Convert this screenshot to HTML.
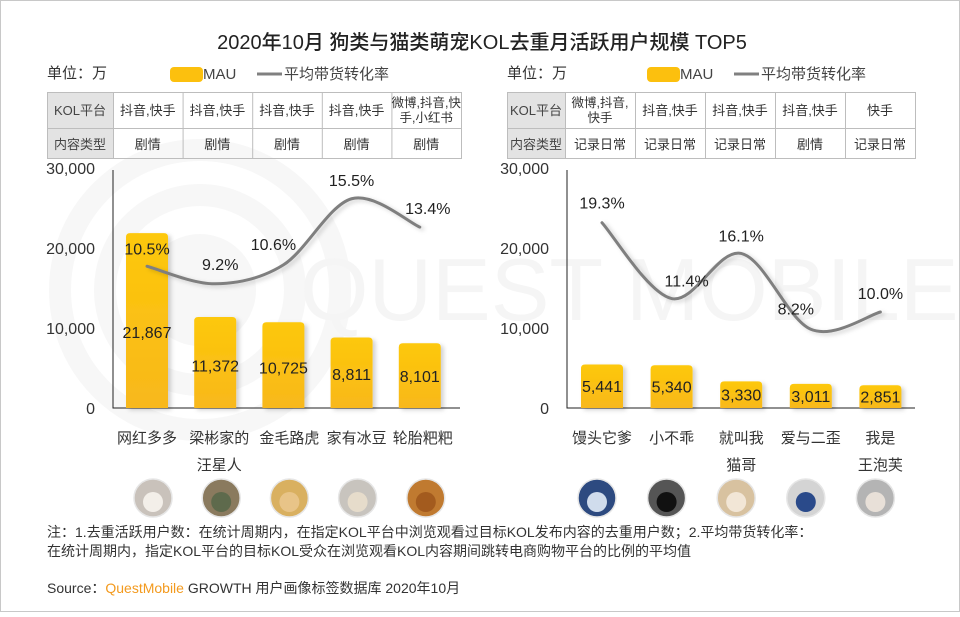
<!DOCTYPE html>
<html><head><meta charset="utf-8"><style>
html,body{margin:0;padding:0;background:#fff}
body{width:960px;height:612px;overflow:hidden;font-family:"Liberation Sans","Noto Sans CJK SC",sans-serif}
svg text{font-family:"Liberation Sans","Noto Sans CJK SC",sans-serif}
</style></head><body>
<svg id="c" width="960" height="612" viewBox="0 0 960 612" xmlns="http://www.w3.org/2000/svg">
<defs>
<linearGradient id="bg" x1="0" y1="0" x2="0" y2="1"><stop offset="0" stop-color="#fdc80a"/><stop offset="1" stop-color="#f8b81c"/></linearGradient>
<filter id="sh" x="-20%" y="-20%" width="150%" height="150%"><feDropShadow dx="3" dy="2" stdDeviation="2" flood-color="#000" flood-opacity="0.18"/></filter>
</defs>
<rect x="0.5" y="0.5" width="959" height="611" fill="#fff" stroke="#c8c8c8"/>
<g fill="none" stroke="#f7f7f7" stroke-width="22">
<circle cx="200" cy="290" r="140"/><circle cx="200" cy="290" r="95"/><circle cx="200" cy="290" r="45" fill="#f7f7f7"/>
</g>
<text x="300" y="320" font-size="88" fill="#f5f5f5">QUEST MOBILE</text>
<text x="482" y="49" font-size="20" font-weight="500" fill="#222" text-anchor="middle">2020年10月 狗类与猫类萌宠KOL去重月活跃用户规模 TOP5</text>
<g id="L"></g><g id="R"></g>
<text x="47" y="537" font-size="14" fill="#333">注：1.去重活跃用户数：在统计周期内，在指定KOL平台中浏览观看过目标KOL发布内容的去重用户数；2.平均带货转化率：</text>
<text x="47" y="556" font-size="14" fill="#333">在统计周期内，指定KOL平台的目标KOL受众在浏览观看KOL内容期间跳转电商购物平台的比例的平均值</text>
<text x="47" y="593" font-size="14" fill="#333">Source：<tspan fill="#f39a1e">QuestMobile</tspan> GROWTH 用户画像标签数据库 2020年10月</text>
</svg>
<script>
var leftNames=[["网红多多"],["梁彬家的","汪星人"],["金毛路虎"],["家有冰豆"],["轮胎粑粑"]];
var leftMAU=[21867,11372,10725,8811,8101];
var leftRate=[10.5,9.2,10.6,15.5,13.4];
var leftPlat=[["抖音,快手"],["抖音,快手"],["抖音,快手"],["抖音,快手"],["微博,抖音,快","手,小红书"]];
var leftType=["剧情","剧情","剧情","剧情","剧情"];
var rightNames=[["馒头它爹"],["小不乖"],["就叫我","猫哥"],["爱与二歪"],["我是","王泡芙"]];
var rightMAU=[5441,5340,3330,3011,2851];
var rightRate=[19.3,11.4,16.1,8.2,10.0];
var rightPlat=[["微博,抖音,","快手"],["抖音,快手"],["抖音,快手"],["抖音,快手"],["快手"]];
var rightType=["记录日常","记录日常","记录日常","剧情","记录日常"];
var yTicks=[0,10000,20000,30000];
var NS="http://www.w3.org/2000/svg";
function mk(p,t,a,txt){var e=document.createElementNS(NS,t);for(var k in a)e.setAttribute(k,a[k]);if(txt!=null)e.textContent=txt;p.appendChild(e);return e;}
function fmt(v){return v.toLocaleString("en-US");}
function draw(g,o){
  var base=408,pxPerUnit=240/30000;
  function y(v){return base-v*pxPerUnit;}
  function yr(p){return base-p*o.pctPx;}
  function x(i){return o.x0+i*o.step;}
  var t=mk(g,"text",{x:o.lx,y:78,"font-size":15,fill:"#333"},"单位：万");
  
  
  var sw=mk(g,"rect",{x:o.sx,y:67,width:33,height:15,rx:4,fill:"#fcc00e"});
  
  
  t=mk(g,"text",{x:o.sx+33,y:79,"font-size":15,fill:"#444"},"MAU");
  
  
  var ln=mk(g,"line",{x1:o.sx+87,y1:74,x2:o.sx+112,y2:74,stroke:"#808080","stroke-width":3});
  
  
  t=mk(g,"text",{x:o.sx+114,y:79,"font-size":15,fill:"#444"},"平均带货转化率");
  
  
  var tx0=o.tx0,tx1=o.tx1,fc=o.fc,cw=(tx1-fc)/5;
  var hd=mk(g,"rect",{x:tx0,y:92,width:fc-tx0,height:67,fill:"#e3e3e3"});
  
  
  var tb=mk(g,"g",{stroke:"#bdbdbd","stroke-width":1,fill:"none"});
  
  
  mk(tb,"rect",{x:tx0+.5,y:92.5,width:tx1-tx0,height:66});
  mk(tb,"line",{x1:tx0,y1:128.5,x2:tx1,y2:128.5});
  for(var i=0;i<5;i++)mk(tb,"line",{x1:fc+i*cw+.5,y1:92,x2:fc+i*cw+.5,y2:159});
  t=mk(g,"text",{x:(tx0+fc)/2,y:115,"font-size":13,fill:"#444","text-anchor":"middle"},"KOL平台");
  
  
  t=mk(g,"text",{x:(tx0+fc)/2,y:149,"font-size":13,fill:"#444","text-anchor":"middle"},"内容类型");
  
  
  for(var i=0;i<5;i++){
    var cx=fc+cw*(i+.5),pl=o.plat[i];
    for(var j=0;j<pl.length;j++){
      var yy=pl.length==1?115:107+j*15;
      t=mk(g,"text",{x:cx,y:yy,"font-size":pl.length==1?13:12.5,fill:"#333","text-anchor":"middle"},pl[j]);
      
      
    }
    t=mk(g,"text",{x:cx,y:149,"font-size":13,fill:"#333","text-anchor":"middle"},o.type[i]);
    
    
  }
  for(var k=0;k<yTicks.length;k++){
    t=mk(g,"text",{x:o.ax-18,y:y(yTicks[k])+6,"font-size":16,fill:"#333","text-anchor":"end"},fmt(yTicks[k]));
    
    
  }
  var ax=mk(g,"polyline",{points:o.ax+",170 "+o.ax+","+base+" "+o.axEnd+","+base,fill:"none",stroke:"#222","stroke-width":1});
  
  
  for(var i=0;i<5;i++){
    var v=o.mau[i],top=y(v);
    var b=mk(g,"path",{d:"M"+(x(i)-21)+","+base+"V"+(top+4)+"q0,-4 4,-4h34q4,0 4,4V"+base+"Z",fill:"url(#bg)",filter:"url(#sh)"});
    
    
    var ly=Math.max(top+(base-top)*0.6,0);ly=Math.min(ly,base-8);
    if(base-top<60)ly=(top+base)/2+6;
    t=mk(g,"text",{x:x(i),y:ly,"font-size":16,fill:"#222","text-anchor":"middle"},fmt(v));
    
    
    var nm=o.names[i];
    for(var j=0;j<nm.length;j++){
      t=mk(g,"text",{x:x(i)+o.nameDx[i],y:443+j*27,"font-size":15,fill:"#333","text-anchor":"middle"},nm[j]);
      
      
    }
    var av=mk(g,"g",{});
    
    
    var acx=x(i)+o.avDx;
    mk(av,"circle",{cx:acx,cy:498,r:19,fill:o.avCol[i]});
    mk(av,"circle",{cx:acx,cy:502,r:10,fill:o.avCol2[i]});
    mk(av,"circle",{cx:acx,cy:498,r:19,fill:"none",stroke:"#e6e6e6","stroke-width":1.5});
  }
  var pts=o.rate.map(function(p,i){return [x(i),yr(p)];});
  var d="M"+pts[0][0]+","+pts[0][1];
  for(var i=0;i<pts.length-1;i++){
    var p0=pts[Math.max(i-1,0)],p1=pts[i],p2=pts[i+1],p3=pts[Math.min(i+2,pts.length-1)];
    var c1=[p1[0]+(p2[0]-p0[0])/6,p1[1]+(p2[1]-p0[1])/6],c2=[p2[0]-(p3[0]-p1[0])/6,p2[1]-(p3[1]-p1[1])/6];
    d+="C"+c1+" "+c2+" "+p2;
  }
  var l=mk(g,"path",{d:d,fill:"none",stroke:"#7f7f7f","stroke-width":3,"stroke-linecap":"round",filter:"url(#sh)"});
  
  
  for(var i=0;i<5;i++){
    t=mk(g,"text",{x:pts[i][0]+o.lblDx[i],y:pts[i][1]+o.lblDy[i],"font-size":16,fill:"#222","text-anchor":"middle"},o.rate[i].toFixed(1)+"%");
    
    
  }
}
draw(document.getElementById("L"),{x0:147,step:68.2,ax:113,axEnd:460,pctPx:13.5,lx:47,sx:170,tx0:47,tx1:461,fc:113,
  mau:leftMAU,rate:leftRate,names:leftNames,plat:leftPlat,type:leftType,nameDx:[0,4,6,5,3],avDx:6,
  lblDx:[0,5,-10,0,8],lblDy:[-12,-14,-15,-13,-13],
  avCol:["#c9c2bb","#8a7a5e","#d9b060","#c8c4be","#c07a30"],avCol2:["#f3efe9","#5e6a4c","#e8c488","#e6dccb","#a35b1e"]});
draw(document.getElementById("R"),{x0:602,step:69.6,ax:567,axEnd:915,pctPx:9.6,lx:507,sx:647,tx0:507,tx1:915,fc:565,
  mau:rightMAU,rate:rightRate,names:rightNames,plat:rightPlat,type:rightType,nameDx:[0,0,0,0,0],avDx:-5,
  lblDx:[0,15,0,-15,0],lblDy:[-14,-12,-12,-15,-13],
  avCol:["#2d4a80","#555","#d8c2a0","#d4d4d4","#b4b4b4"],avCol2:["#d0dcec","#111","#f2e6d6","#2a4a8a","#e8e0d8"]});
</script>
</body></html>
